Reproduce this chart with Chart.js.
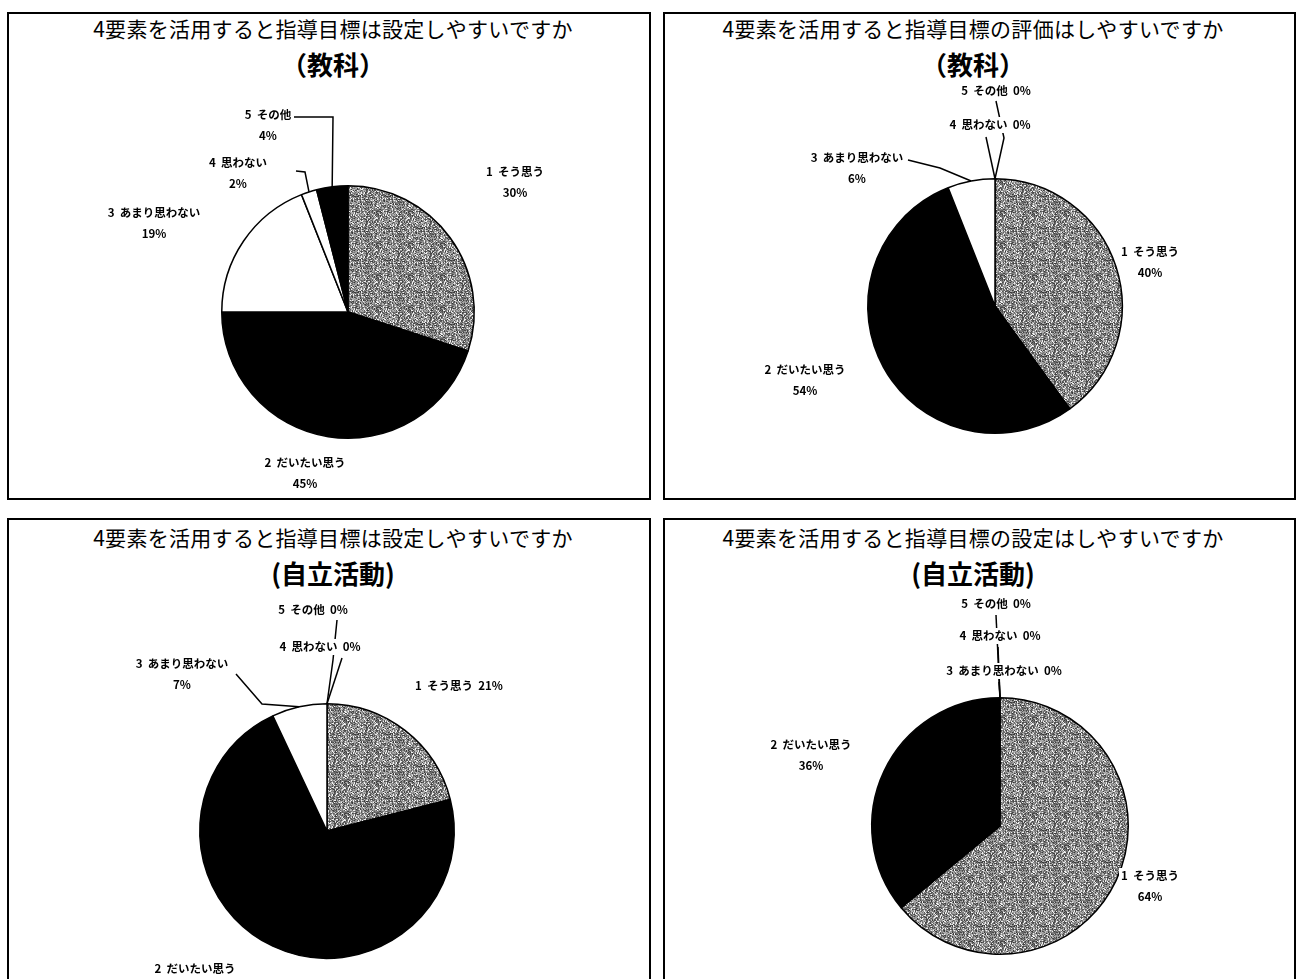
<!DOCTYPE html>
<html>
<head>
<meta charset="utf-8">
<script src="https://cdn.jsdelivr.net/npm/chart.js@4.4.1/dist/chart.umd.min.js"></script>
<style>
body{margin:0;background:#fff;width:1302px;height:979px;overflow:hidden;position:relative;font-family:"Noto Sans CJK JP",sans-serif;}
.panel{position:absolute;border:2px solid #000;box-sizing:border-box;}
.t1,.t2{position:absolute;white-space:nowrap;transform:translate(-50%,-50%);color:#000;}
.t1{font-size:21px;letter-spacing:0.3px;}
.t2{font-size:26px;font-weight:bold;}
canvas{position:absolute;}
</style>
</head>
<body>
<script>
// 回答項目
const categories = ['1 そう思う','2 だいたい思う','3 あまり思わない','4 思わない','5 その他'];
// 各グラフの割合(%)
const kyokaSettei   = [30, 45, 19, 2, 4];
const kyokaHyoka    = [40, 54, 6, 0, 0];
const jiritsuSettei = [21, 72, 7, 0, 0];
const jiritsuSettei2 = [64, 36, 0, 0, 0];

const titles = [
  ['4要素を活用すると指導目標は設定しやすいですか','（教科）'],
  ['4要素を活用すると指導目標の評価はしやすいですか','（教科）'],
  ['4要素を活用すると指導目標は設定しやすいですか','(自立活動)'],
  ['4要素を活用すると指導目標の設定はしやすいですか','(自立活動)']
];

// 網掛け(グレー)パターン - 固定のハッシュで作るざらざらした灰色
function grayPattern(){
  let n=32;
  let c=document.createElement('canvas');
  c.width=n;c.height=n;
  let g=c.getContext('2d');
  for(let y=0;y<n;y++)for(let x=0;x<n;x++){
    let h=Math.imul(x*374761393+y*668265263,1274126177);
    h=(h^(h>>>13))>>>0;
    let v=55+(h%140);
    if(h%9==0) v=240;
    g.fillStyle=`rgb(${v},${v},${v})`;
    g.fillRect(x,y,1,1);
  }
  return g.createPattern(c,'repeat');
}
let gray=grayPattern();
let sliceColors=[gray,'#000','#fff','#fff','#000'];

let panels=[
  {box:[7,12,644,488], values:kyokaSettei, cx:348, cy:312, r:127, tx:333, ty:28,
   spots:[
     {x:515,y:172,two:true},
     {x:305,y:463,two:true},
     {x:154,y:213,two:true},
     {x:238,y:163,two:true,leader:[[296,171],[305,172]]},
     {x:268,y:115,two:true,leader:[[294,117],[333,117]]}
   ]},
  {box:[663,12,633,488], values:kyokaHyoka, cx:995, cy:306, r:128, tx:973, ty:28,
   spots:[
     {x:1150,y:252,two:true},
     {x:805,y:370,two:true},
     {x:857,y:158,two:true,leader:[[908,160],[940,168]]},
     {x:990,y:125,leader:[[986,137]]},
     {x:996,y:91,leader:[[996,101],[1004,138]]}
   ]},
  {box:[7,518,644,480], values:jiritsuSettei, cx:327, cy:831, r:128, tx:333, ty:537,
   spots:[
     {x:459,y:686},
     {x:195,y:969,two:true},
     {x:182,y:664,two:true,leader:[[236,674],[262,704]]},
     {x:320,y:647,leader:[[342,658]]},
     {x:313,y:610,leader:[[337,620],[333,660]]}
   ]},
  {box:[663,518,633,480], values:jiritsuSettei2, cx:1000, cy:826, r:129, tx:973, ty:537,
   spots:[
     {x:1150,y:876,two:true},
     {x:811,y:745,two:true},
     {x:1004,y:671,leader:[[999,682]]},
     {x:1000,y:636,leader:[[998,647]]},
     {x:996,y:604,leader:[[996,615]]}
   ]}
];

// ラベルと引き出し線
const sliceLabels={
  id:'sliceLabels',
  afterDatasetsDraw(chart,args,opts){
    let ctx=chart.ctx, ox=opts.ox, oy=opts.oy;
    let meta=chart.getDatasetMeta(0);
    let vals=chart.data.datasets[0].data;
    ctx.save();
    ctx.strokeStyle='#000';ctx.lineWidth=1.5;
    opts.spots.forEach((s,i)=>{
      if(!s.leader) return;
      let a=meta.data[i].getProps(['x','y','startAngle','endAngle','outerRadius'],true);
      let mid=(a.startAngle+a.endAngle)/2;
      ctx.beginPath();
      ctx.moveTo(s.leader[0][0]-ox,s.leader[0][1]-oy);
      s.leader.slice(1).forEach(p=>ctx.lineTo(p[0]-ox,p[1]-oy));
      ctx.lineTo(a.x+Math.cos(mid)*a.outerRadius,a.y+Math.sin(mid)*a.outerRadius);
      ctx.stroke();
    });
    ctx.font='bold 11.5px "Noto Sans CJK JP"';
    ctx.textAlign='center';ctx.textBaseline='middle';
    opts.spots.forEach((s,i)=>{
      let name=chart.data.labels[i].replace(' ','  ');
      let pct=vals[i]+'%';
      let lines=s.two?[name,pct]:[name+'  '+pct];
      lines.forEach((t,k)=>{
        let x=s.x-ox, y=s.y-oy+k*21;
        let w=ctx.measureText(t).width;
        ctx.fillStyle='#fff';ctx.fillRect(x-w/2-2,y-8,w+4,16);
        ctx.fillStyle='#000';ctx.fillText(t,x,y);
      });
    });
    ctx.restore();
  }
};

panels.forEach((p,n)=>{
  let [bx,by,bw,bh]=p.box;
  let d=document.createElement('div');
  d.className='panel';
  d.style.cssText=`left:${bx}px;top:${by}px;width:${bw}px;height:${bh}px`;
  document.body.appendChild(d);

  let t1=document.createElement('div');
  t1.className='t1';t1.textContent=titles[n][0];
  t1.style.left=p.tx+'px';t1.style.top=p.ty+'px';
  document.body.appendChild(t1);
  let t2=document.createElement('div');
  t2.className='t2';t2.textContent=titles[n][1];
  t2.style.left=p.tx+'px';t2.style.top=(p.ty+35)+'px';
  document.body.appendChild(t2);

  let cv=document.createElement('canvas');
  cv.width=bw;cv.height=bh;
  cv.style.left=bx+'px';cv.style.top=by+'px';
  document.body.appendChild(cv);

  new Chart(cv,{
    type:'pie',
    data:{
      labels:categories,
      datasets:[{
        data:p.values,
        backgroundColor:sliceColors,
        borderColor:'#000',
        borderWidth:1.5
      }]
    },
    options:{
      responsive:false,
      animation:false,
      layout:{padding:{
        left:p.cx-p.r-bx,
        right:bx+bw-(p.cx+p.r),
        top:p.cy-p.r-by,
        bottom:by+bh-(p.cy+p.r)
      }},
      plugins:{
        legend:{display:false},
        tooltip:{enabled:false},
        sliceLabels:{ox:bx,oy:by,spots:p.spots}
      }
    },
    plugins:[sliceLabels]
  });
});
</script>
</body>
</html>
